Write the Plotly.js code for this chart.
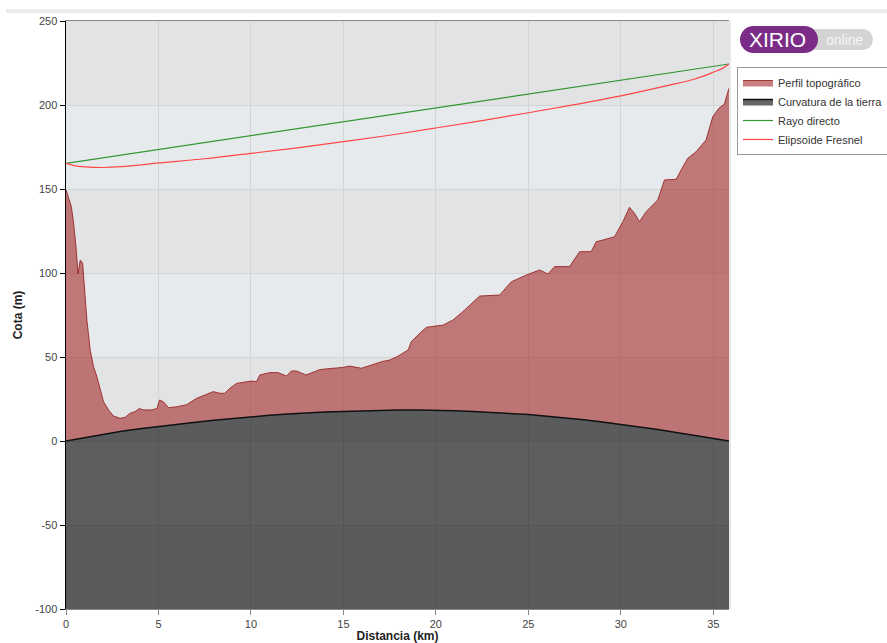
<!DOCTYPE html>
<html><head><meta charset="utf-8">
<script src="https://cdn.plot.ly/plotly-3.0.1.min.js"></script>
<style>html,body{margin:0;padding:0;background:#fff;}#chart{width:887px;height:643px;}</style>
</head><body><div id="chart"></div>
<script>
// ---- data ----
const terrainX = [0,0.15,0.29,0.41,0.54,0.65,0.77,0.9,1.01,1.13,1.31,1.49,1.67,1.85,2.03,2.3,2.57,2.93,3.2,3.47,3.74,3.96,4.2,4.65,4.92,5.06,5.28,5.55,6.0,6.52,7.06,7.6,7.96,8.32,8.59,8.86,9.22,9.58,10.03,10.3,10.48,11.02,11.47,11.92,12.19,12.46,12.97,13.36,13.72,14.44,14.98,15.34,15.97,16.52,17.06,17.5,17.95,18.5,18.67,19.03,19.49,20.39,20.92,21.46,21.92,22.37,23.45,24.08,24.89,25.61,26.06,26.42,27.23,27.77,28.4,28.67,29.03,29.3,29.66,30.11,30.47,30.74,31.01,31.37,32.0,32.36,32.99,33.26,33.62,34.07,34.61,34.97,35.3,35.6,35.78,35.85];
const terrainY = [149.5,145,139.5,129.7,115.7,99.4,107.7,105.8,89.9,72,54,44.2,38.3,30.4,23.4,18.5,14.9,13.5,14.1,16.5,17.5,19.3,18.5,18.5,19.4,24.4,23.2,19.8,20.4,21.6,25.4,27.8,29.4,28.4,28.4,31.4,34.3,34.9,35.7,35.3,39.3,40.7,40.7,38.7,41.7,41.7,39.3,40.9,42.5,43.3,43.8,44.6,43.3,45.2,47.2,48.2,50.5,54.2,59.1,63.1,67.7,69,72,77,82,86.3,86.9,94.8,98.8,101.8,99.4,103.8,103.8,112.7,112.7,118.6,119.6,120.6,121.6,130.5,139.1,135.5,130.5,136.5,143.5,155.4,155.8,161.3,168.3,172.2,179.2,193,198,200.6,207.9,210];
const curvX = [0,1,2,3,4,5,6,7,8,9,10,11,12,13,14,15,16,17,18,19,20,21,22,23,24,25,26,27,28,29,30,31,32,33,34,35,35.85];
const curvY = [0,2,4,5.8,7.3,8.7,10,11.2,12.3,13.3,14.5,15.3,16,16.7,17.2,17.6,18,18.3,18.4,18.4,18.3,18,17.6,17.1,16.4,15.7,14.8,13.8,12.6,11.3,10,8.4,6.8,5,3.2,1.6,0];
const rayX = [0,35.85];
const rayY = [165.3,224.4];
const fresnelX = [0,0.5,1,1.5,2,3,4,5,7.5,10,12.5,15,17.5,20,22.5,25,27.5,30,32.5,34,35,35.5,35.85];
const fresnelY = [165.3,163.8,163.2,162.9,162.8,163.3,164.3,165.5,168,171.2,174.5,178.2,182,186.3,190.7,195.4,200.2,205.4,211.5,215.5,219.5,221.8,224.4];
const xTicks = [0,5,10,15,20,25,30,35];
const yTicks = [-100,-50,0,50,100,150,200,250];
const darkBands = [[200,250],[100,150],[0,50],[-100,-50]];
const seriesNames = ['Perfil topográfico','Curvatura de la tierra','Rayo directo','Elipsoide Fresnel'];
const xMax = 35.85;

// ---- geometry helpers (pixel -> paper) ----
const PX = p => (p-66)/663;
const PY = p => 1-(p-21)/588;
const FONT = 'Liberation Sans, Arial, sans-serif';

const traces = [
  {x:[0,xMax], y:[-100,-100], mode:'lines', line:{width:0}, showlegend:false, hoverinfo:'skip'},
  {x:curvX, y:curvY, mode:'lines', fill:'tonexty', fillcolor:'rgba(0,0,0,0.6)',
   line:{color:'#111', width:1.5}, name:seriesNames[1], legendrank:2},
  {x:terrainX, y:terrainY, mode:'lines', fill:'tonexty', fillcolor:'rgba(165,42,42,0.6)',
   line:{color:'rgba(150,30,30,0.85)', width:1}, name:seriesNames[0], legendrank:1},
  {x:rayX, y:rayY, mode:'lines', line:{color:'rgb(50,150,50)', width:1.2}, name:seriesNames[2], legendrank:3},
  {x:fresnelX, y:fresnelY, mode:'lines', line:{color:'rgb(255,70,70)', width:1.2, shape:'spline'}, name:seriesNames[3], legendrank:4}
];

const shapes = darkBands.map(b => ({type:'rect', xref:'paper', x0:0, x1:1, yref:'y', y0:b[0], y1:b[1],
  fillcolor:'#e2e3e5', line:{width:0}, layer:'below'}));
shapes.push({type:'rect', xref:'paper', yref:'paper', x0:PX(6), x1:PX(887), y0:PY(13), y1:PY(9),
  fillcolor:'#ebebeb', line:{width:0}});
shapes.push({type:'line', xref:'paper', yref:'paper', x0:PX(730), x1:PX(730), y0:0, y1:1,
  line:{color:'#d0d0d0', width:1}});
// logo
const gray = '#d4d4d4', purple = '#7b2c86';
shapes.push({type:'rect', xref:'paper', yref:'paper', x0:PX(808), x1:PX(862), y0:PY(50), y1:PY(29), fillcolor:gray, line:{width:0}});
shapes.push({type:'circle', xref:'paper', yref:'paper', x0:PX(852), x1:PX(873), y0:PY(50), y1:PY(29), fillcolor:gray, line:{width:0}});
shapes.push({type:'rect', xref:'paper', yref:'paper', x0:PX(753), x1:PX(805), y0:PY(53), y1:PY(26), fillcolor:purple, line:{width:0}});
shapes.push({type:'circle', xref:'paper', yref:'paper', x0:PX(740), x1:PX(767), y0:PY(53), y1:PY(26), fillcolor:purple, line:{width:0}});
shapes.push({type:'circle', xref:'paper', yref:'paper', x0:PX(791), x1:PX(818), y0:PY(53), y1:PY(26), fillcolor:purple, line:{width:0}});

const annotations = [
  {xref:'paper', yref:'paper', x:PX(777), y:PY(40), text:'XIRIO', showarrow:false,
   font:{family:FONT, size:21, color:'#ffffff'}, xanchor:'center', yanchor:'middle'},
  {xref:'paper', yref:'paper', x:PX(845), y:PY(40), text:'online', showarrow:false,
   font:{family:FONT, size:14, color:'#f6f6f6'}, xanchor:'center', yanchor:'middle'}
];

const layout = {
  width:887, height:643,
  margin:{l:66, r:158, t:21, b:34, autoexpand:false},
  paper_bgcolor:'#ffffff', plot_bgcolor:'#e7eaed',
  font:{family:FONT, size:11, color:'#444'},
  showlegend:true,
  legend:{x:PX(737), y:PY(67), xanchor:'left', yanchor:'top', bgcolor:'#ffffff',
    bordercolor:'#999', borderwidth:1, font:{family:FONT, size:11, color:'#333'},
    tracegroupgap:0, itemwidth:30, traceorder:'normal'},
  xaxis:{range:[0,xMax], tickvals:xTicks, ticktext:xTicks.map(String), showgrid:true, gridcolor:'#d4d4d4',
    zeroline:false, showline:true, linecolor:'#888', linewidth:1, mirror:true,
    ticks:'outside', ticklen:5, tickcolor:'#888', tickfont:{family:FONT, size:11, color:'#444'},
    title:{text:'<b>Distancia (km)</b>', font:{family:FONT, size:12, color:'#222'}, standoff:2}},
  yaxis:{range:[-100,250], tickvals:yTicks, ticktext:yTicks.map(String), showgrid:true, gridcolor:'#d4d4d4',
    zeroline:false, showline:true, linecolor:'#000', linewidth:1.5,
    ticks:'outside', ticklen:5, tickcolor:'#000', tickfont:{family:FONT, size:11, color:'#444'},
    title:{text:'<b>Cota (m)</b>', font:{family:FONT, size:12, color:'#222'}, standoff:10}},
  shapes:shapes,
  annotations:annotations
};

Plotly.newPlot('chart', traces, layout, {displayModeBar:false, staticPlot:true});
</script>
</body></html>
